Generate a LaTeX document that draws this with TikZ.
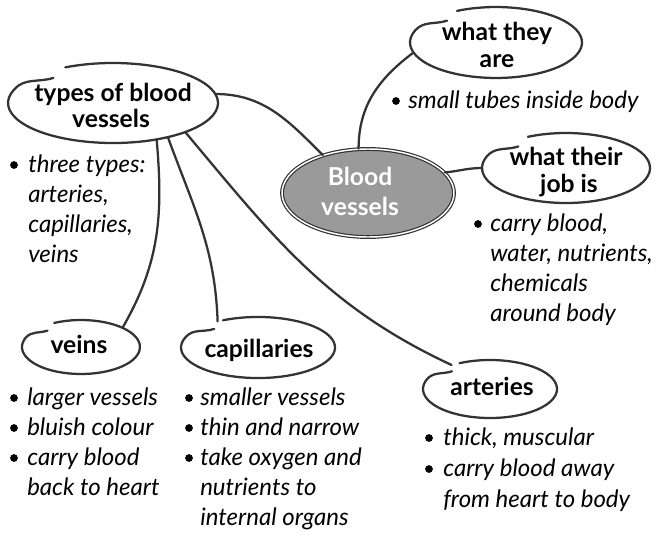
\documentclass[tikz,border=0pt]{standalone}
\usepackage{fontspec}
\setmainfont{Lato}
\usetikzlibrary{shapes.geometric}
\definecolor{ln}{HTML}{333333}
\definecolor{cgray}{HTML}{9A9A9A}
\tikzset{
  bub/.style={ellipse, inner sep=0pt},
  head/.style={font=\fontsize{18.5}{20}\selectfont\bfseries, anchor=base, inner sep=0pt},
  itm/.style={font=\fontsize{18}{20}\selectfont\itshape, anchor=base west, inner sep=0pt},
  dot/.style={circle, fill=black, inner sep=0pt, minimum size=5.8pt},
  con/.style={draw=ln, line width=1.7pt, line cap=round},
}
% hand-drawn outline: #1 node, #2 rx, #3 ry, #4 end rx, #5 end ry
\newcommand\hbub[5]{%
  \draw[con] (#1.center) ++(117:#2 and #3) arc[start angle=117, end angle=-200, x radius=#2, y radius=#3]
    to[out=48,in=198] ([shift={(125:#4 and #5)}]#1.center);
}
\begin{document}
\begin{tikzpicture}[x=0.75pt,y=-0.75pt]
\useasboundingbox (0,0) rectangle (657,547);
% bubbles (shapes for anchors)
\node[bub, minimum width=129pt, minimum height=53.25pt] (are) at (496,42.5) {};
\node[bub, minimum width=157.5pt, minimum height=60pt] (types) at (113,103) {};
\node[ellipse, fill=cgray, draw=ln, line width=0.9pt, double=white, double distance=1.1pt, inner sep=0pt,
      minimum width=129pt, minimum height=66pt] (blood) at (368,193) {};
\node[bub, minimum width=126pt, minimum height=52.5pt] (job) at (566,168) {};
\node[bub, minimum width=88.5pt, minimum height=40.5pt] (veins) at (81,347) {};
\node[bub, minimum width=115.5pt, minimum height=45.75pt] (cap) at (258,347.5) {};
\node[bub, minimum width=100.5pt, minimum height=43.5pt] (art) at (490,389) {};
% outlines
\hbub{are}{64.5pt}{26.6pt}{63.9pt}{20pt}
\hbub{types}{78.75pt}{30pt}{78pt}{23pt}
\hbub{job}{63pt}{26.25pt}{62.4pt}{19.7pt}
\hbub{veins}{44.25pt}{20.25pt}{43.8pt}{15pt}
\hbub{cap}{57.75pt}{22.9pt}{57.2pt}{17pt}
\hbub{art}{50.25pt}{21.75pt}{49.7pt}{16.2pt}
% connectors
\draw[con] (types.5) to[out=0,in=135] (blood.140);
\draw[con] (types.-40) to[out=-85,in=60] (veins.25);
\draw[con] (types.-32) to[out=-70,in=92] (cap.147);
\draw[con] (types.-22) to[out=-50,in=155] (art.148);
\draw[con] (blood.102) to[out=90,in=217] (are.187);
\draw[con] (blood.15) to[out=5,in=180] (job.180);
% headings
\node[head] (t1a) at (497,40) {what they};
\node[head] (t1b) at (497,67) {are};
\node[head] (t2a) at (113,101) {types of blood};
\node[head] (t2b) at (111,127) {vessels};
\node[head,white] (t3a) at (360,185) {Blood};
\node[head,white] (t3b) at (360,215) {vessels};
\node[head] (t4a) at (566,165) {what their};
\node[head] (t4b) at (569,192) {job is};
\node[head] (t5) at (79,353) {veins};
\node[head] (t6) at (259,357) {capillaries};
\node[head] (t7) at (492,395) {arteries};
% what they are
\node[dot] (d1) at (396,101) {};
\node[itm] (i1) at (408,108) {small tubes inside body};
% types
\node[dot] (d2) at (14,165) {};
\node[itm] (i2a) at (28,172) {three types:};
\node[itm] (i2b) at (28,202) {arteries,};
\node[itm] (i2c) at (28,232) {capillaries,};
\node[itm] (i2d) at (28,262) {veins};
% job
\node[dot] (d3) at (478,224) {};
\node[itm] (i3a) at (490,231) {carry blood,};
\node[itm] (i3b) at (490,261) {water, nutrients,};
\node[itm] (i3c) at (490,291) {chemicals};
\node[itm] (i3d) at (490,321) {around body};
% veins
\node[dot] (d4a) at (14,398) {};
\node[itm] (i4a) at (27,405) {larger vessels};
\node[dot] (d4b) at (14,428) {};
\node[itm] (i4b) at (27,435) {bluish colour};
\node[dot] (d4c) at (14,458) {};
\node[itm] (i4c) at (27,465) {carry blood};
\node[itm] (i4d) at (27,495) {back to heart};
% capillaries
\node[dot] (d5a) at (189,398) {};
\node[itm] (i5a) at (200,405) {smaller vessels};
\node[dot] (d5b) at (189,428) {};
\node[itm] (i5b) at (200,435) {thin and narrow};
\node[dot] (d5c) at (189,458) {};
\node[itm] (i5c) at (200,465) {take oxygen and};
\node[itm] (i5d) at (200,495) {nutrients to};
\node[itm] (i5e) at (200,525) {internal organs};
% arteries
\node[dot] (d6a) at (429,438) {};
\node[itm] (i6a) at (443,445) {thick, muscular};
\node[dot] (d6b) at (429,469) {};
\node[itm] (i6b) at (443,476) {carry blood away};
\node[itm] (i6c) at (443,507) {from heart to body};
\end{tikzpicture}
\end{document}
